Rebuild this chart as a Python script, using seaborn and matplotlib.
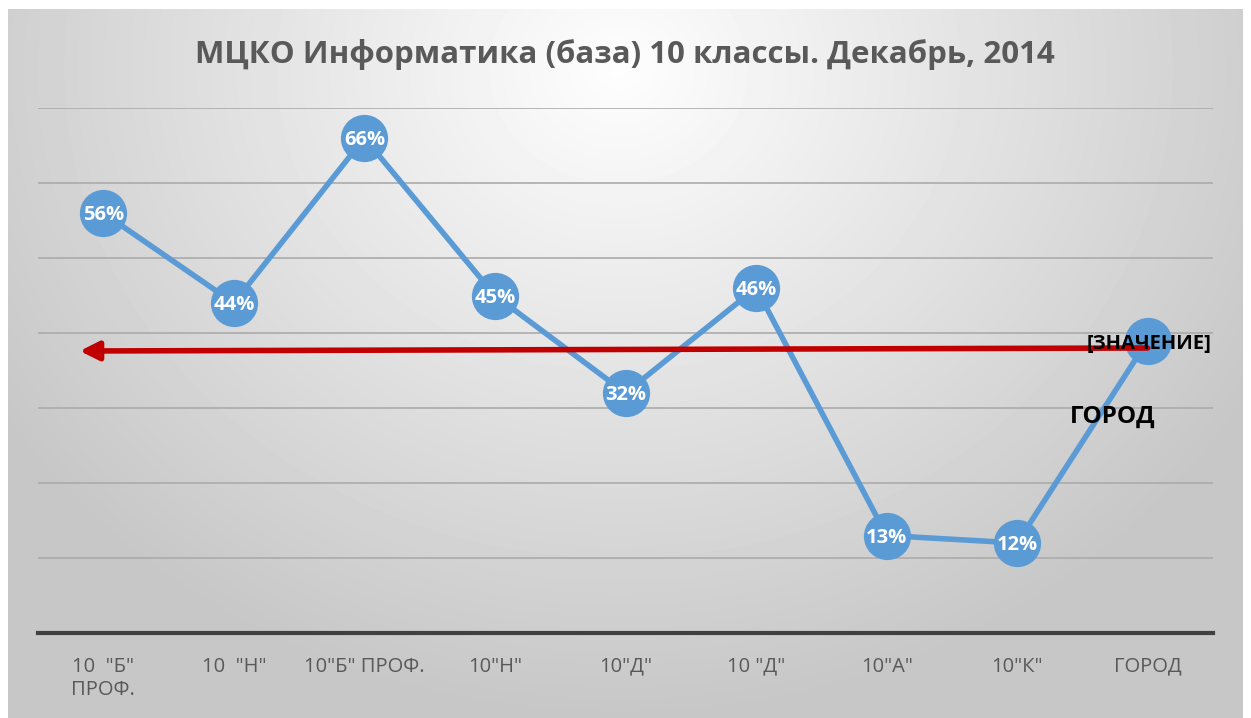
import numpy as np
import pandas as pd
import matplotlib
matplotlib.use("Agg")
import matplotlib.pyplot as plt
import seaborn as sns

# data
classes = ['10  "Б"\nПРОФ.', '10  "Н"', '10"Б" ПРОФ.', '10"Н"', '10"Д"',
           '10 "Д"', '10"А"', '10"К"', 'ГОРОД']
scores = [56, 44, 66, 45, 32, 46, 13, 12, 39]
point_labels = ['56%', '44%', '66%', '45%', '32%', '46%', '13%', '12%', '[ЗНАЧЕНИЕ]']
city_level = [38.0, 37.6]  # red arrow, right end -> left end
title = 'МЦКО Информатика (база) 10 классы. Декабрь, 2014'

sns.set_theme(style="white")
plt.rcParams['font.family'] = ['Open Sans', 'DejaVu Sans']

df = pd.DataFrame({"pos": range(len(classes)), "score": scores})

W, H = 1251, 718
fig = plt.figure(figsize=(W / 100, H / 100), dpi=100)
fig.patch.set_facecolor("white")

# gray radial gradient panel behind the chart
bg = fig.add_axes([0, 0, 1, 1], zorder=0)
bg.set_xlim(0, W)
bg.set_ylim(H, 0)
bg.axis("off")
yy, xx = np.mgrid[0:H - 9, 0:W - 16]
r = np.sqrt(((xx - 610) / 850.0) ** 2 + ((yy - 60) / 750.0) ** 2)
shade = np.clip(0.995 - 0.25 * r, 0.78, 1.0)
bg.imshow(shade, cmap="gray", vmin=0, vmax=1, extent=[8, W - 8, H, 9],
          aspect="auto", interpolation="bilinear")

ax = fig.add_axes([38 / W, 1 - 633 / H, (1213 - 38) / W, (633 - 108) / H], zorder=1)
ax.patch.set_alpha(0)

sns.lineplot(data=df, x="pos", y="score", ax=ax, color="#5B9BD5", linewidth=4,
             marker="o", markersize=34, markeredgewidth=0, zorder=3)

for i, (v, lab) in enumerate(zip(scores, point_labels)):
    if i == len(scores) - 1:
        ax.text(i - 0.47, v - 0.5, lab, color="black", fontsize=14.5,
                fontweight="bold", ha="left", va="center", zorder=5)
    else:
        ax.text(i, v - 0.3, lab, color="white", fontsize=14.5, fontweight="bold",
                ha="center", va="center", zorder=5)

ax.text(7.73, 28.8, "ГОРОД", color="black", fontsize=17.5, fontweight="bold",
        ha="center", va="center", zorder=5)

# red arrow for the city level
ax.annotate("", xy=(-0.18, city_level[1]), xytext=(8.0, city_level[0]),
            arrowprops=dict(arrowstyle="-|>", color="#C00000", lw=4,
                            mutation_scale=28, shrinkA=0, shrinkB=0),
            zorder=4)

ax.set_xlim(-0.5, 8.5)
ax.set_ylim(0, 70)
ax.set_yticks(np.arange(10, 71, 10))
ax.yaxis.grid(True, color="#ABABAB", linewidth=1.2)
ax.set_axisbelow(True)
ax.tick_params(axis="y", left=False, labelleft=False)
ax.set_xticks(range(len(classes)))
ax.set_xticklabels(classes, color="#595959", fontsize=14.5)
ax.tick_params(axis="x", length=0, pad=17)
for s in ["top", "right", "left"]:
    ax.spines[s].set_visible(False)
ax.spines["bottom"].set_color("#404040")
ax.spines["bottom"].set_linewidth(3)
ax.set_xlabel("")
ax.set_ylabel("")

fig.text(625 / W, 1 - 54 / H, title, ha="center", va="center", fontsize=22.5,
         fontweight="bold", color="#595959")

fig.savefig("out.png", dpi=100)
